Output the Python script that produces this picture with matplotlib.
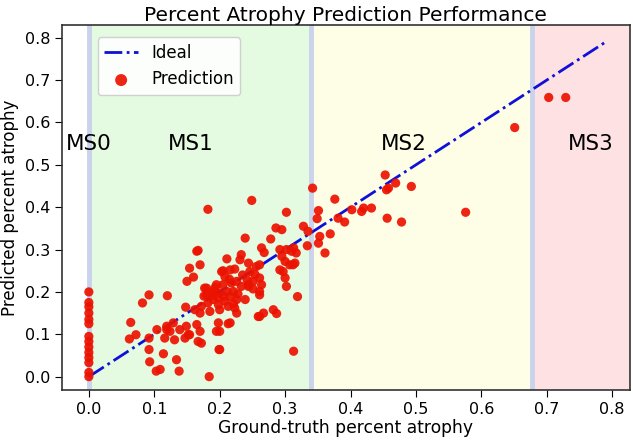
import numpy as np
import matplotlib
matplotlib.use("Agg")
import matplotlib.pyplot as plt

# ============================================================
# DATA
# ============================================================
ms0_pred = [0.200, 0.175, 0.165, 0.150, 0.135, 0.125, 0.095, 0.083,
            0.070, 0.057, 0.045, 0.033, 0.010, 0.000]
ms0_gt = [0.0] * len(ms0_pred)

gt_low = [0.064, 0.062, 0.072, 0.082, 0.092, 0.092, 0.104, 0.092, 0.093, 0.103,
          0.109, 0.114, 0.120, 0.119, 0.129, 0.124, 0.116, 0.131, 0.139, 0.149,
          0.147, 0.154, 0.165, 0.170, 0.167, 0.134, 0.138, 0.184, 0.172, 0.199,
          0.148, 0.162, 0.150, 0.160, 0.170, 0.165, 0.154, 0.119, 0.152]
pred_low = [0.128, 0.089, 0.099, 0.174, 0.193, 0.091, 0.111, 0.064, 0.035, 0.013,
            0.017, 0.054, 0.191, 0.119, 0.127, 0.107, 0.091, 0.087, 0.111, 0.119,
            0.091, 0.099, 0.123, 0.107, 0.083, 0.040, 0.013, 0.000, 0.079, 0.064,
            0.164, 0.158, 0.225, 0.235, 0.264, 0.296, 0.256, 0.111, 0.099]

gt_mid = [0.182, 0.167, 0.211, 0.205, 0.223, 0.177, 0.180, 0.190, 0.180, 0.200,
          0.211, 0.221, 0.216, 0.198, 0.190, 0.208, 0.226, 0.182, 0.198, 0.213,
          0.172, 0.170, 0.185, 0.200, 0.239, 0.223, 0.226, 0.261, 0.264, 0.261,
          0.267, 0.195, 0.205, 0.218, 0.226, 0.233, 0.244, 0.203, 0.216, 0.231,
          0.244, 0.261, 0.246, 0.254, 0.261, 0.251, 0.233, 0.256, 0.244, 0.251,
          0.261, 0.198, 0.216, 0.200, 0.195, 0.213, 0.200, 0.249, 0.239, 0.278,
          0.264, 0.268, 0.259, 0.282, 0.287, 0.193, 0.206, 0.228, 0.215, 0.188,
          0.235, 0.208, 0.176, 0.242, 0.221]
pred_mid = [0.395, 0.298, 0.278, 0.250, 0.254, 0.209, 0.209, 0.201, 0.193, 0.197,
            0.201, 0.201, 0.189, 0.186, 0.182, 0.178, 0.182, 0.174, 0.170, 0.166,
            0.166, 0.150, 0.154, 0.158, 0.182, 0.162, 0.150, 0.201, 0.217, 0.142,
            0.150, 0.217, 0.217, 0.221, 0.225, 0.213, 0.217, 0.248, 0.252, 0.276,
            0.268, 0.264, 0.248, 0.241, 0.233, 0.225, 0.288, 0.260, 0.213, 0.207,
            0.193, 0.127, 0.127, 0.107, 0.107, 0.125, 0.064, 0.416, 0.327, 0.325,
            0.304, 0.293, 0.142, 0.158, 0.149, 0.210, 0.190, 0.195, 0.230, 0.192,
            0.240, 0.236, 0.190, 0.228, 0.172]

gt_high = [0.302, 0.286, 0.295, 0.328, 0.335, 0.334, 0.292, 0.302, 0.310, 0.317,
           0.295, 0.300, 0.292, 0.307, 0.315, 0.297, 0.300, 0.302, 0.319, 0.313,
           0.313, 0.312, 0.342, 0.376, 0.351, 0.349, 0.381, 0.391, 0.369, 0.353,
           0.351, 0.361, 0.402, 0.417, 0.420, 0.432, 0.453, 0.469, 0.455, 0.458,
           0.493, 0.456, 0.478, 0.576, 0.651, 0.703, 0.729]
pred_high = [0.388, 0.351, 0.347, 0.355, 0.343, 0.309, 0.300, 0.300, 0.296, 0.292,
             0.284, 0.272, 0.252, 0.264, 0.268, 0.248, 0.233, 0.213, 0.189, 0.060,
             0.304, 0.264, 0.445, 0.419, 0.392, 0.373, 0.374, 0.365, 0.337, 0.331,
             0.315, 0.292, 0.394, 0.390, 0.398, 0.398, 0.476, 0.457, 0.441, 0.445,
             0.449, 0.374, 0.365, 0.388, 0.588, 0.659, 0.659]

ground_truth = np.array(ms0_gt + gt_low + gt_mid + gt_high)
predicted = np.array(ms0_pred + pred_low + pred_mid + pred_high)

ideal = [0.0, 0.79]

# stage boundaries and labels
stage_edges = [0.0, 0.339, 0.677]
stage_names = ["MS0", "MS1", "MS2", "MS3"]
stage_text_x = [0.0, 0.156, 0.482, 0.767]
stage_text_y = 0.55

X_LIM = (-0.041, 0.827)
Y_LIM = (-0.031, 0.830)

# ============================================================
# PLOT
# ============================================================
fig = plt.figure(figsize=(6.33, 4.47), dpi=100)
ax = fig.add_axes([0.098, 0.128, 0.897, 0.816])

# background bands for each stage
ax.axvspan(stage_edges[0], stage_edges[1], facecolor='#e4fbe1', edgecolor='none', zorder=0)
ax.axvspan(stage_edges[1], stage_edges[2], facecolor='#fefee7', edgecolor='none', zorder=0)
ax.axvspan(stage_edges[2], X_LIM[1], facecolor='#fee1e3', edgecolor='none', zorder=0)
for edge in stage_edges:
    ax.axvline(edge, color='#c9d3ec', linewidth=3.5, zorder=1)

ax.plot(ideal, ideal, color='#1010d8', linestyle='-.', linewidth=2, label='Ideal', zorder=3)
ax.scatter(ground_truth, predicted, s=44, color='#ec1200', alpha=0.92,
           edgecolors='none', label='Prediction', zorder=4)

for name, tx in zip(stage_names, stage_text_x):
    ax.text(tx, stage_text_y, name, fontsize=15.5, ha='center', va='center', zorder=5)

ax.set_xlim(*X_LIM)
ax.set_ylim(*Y_LIM)
ax.set_xticks(np.arange(0, 0.81, 0.1))
ax.set_yticks(np.arange(0, 0.81, 0.1))
ax.tick_params(labelsize=11.5, length=5)

ax.set_title("Percent Atrophy Prediction Performance", fontsize=14.5, pad=3)
ax.set_xlabel("Ground-truth percent atrophy", fontsize=12.3, labelpad=2)
ax.set_ylabel("Predicted percent atrophy", fontsize=12, labelpad=4)

ax.legend(loc='upper left', bbox_to_anchor=(0.063, 0.966), borderaxespad=0,
          fontsize=12, markerscale=1.3, framealpha=0.9)

for spine in ax.spines.values():
    spine.set_color('#333333')
    spine.set_linewidth(1.2)

plt.savefig("out.png", dpi=100)
